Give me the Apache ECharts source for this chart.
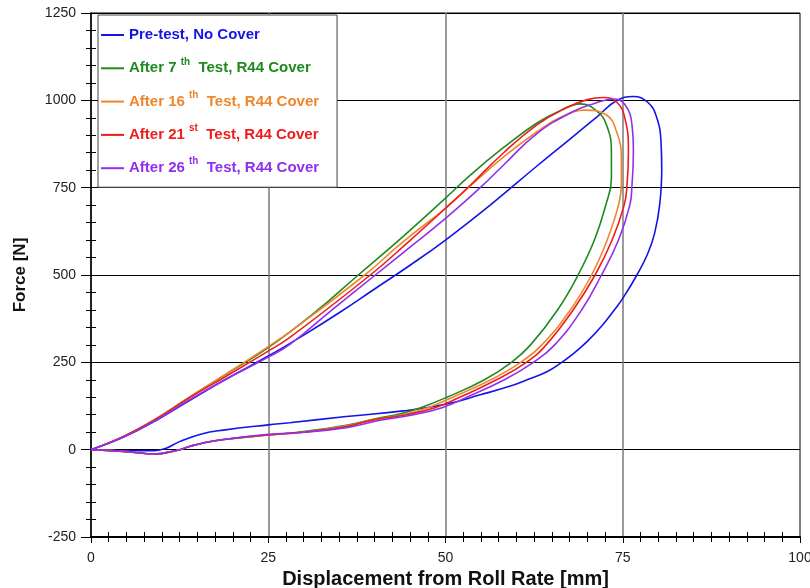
<!DOCTYPE html>
<html>
<head>
<meta charset="utf-8">
<script src="https://cdn.jsdelivr.net/npm/echarts@6/dist/echarts.min.js"></script>
<style>
  html, body { margin: 0; padding: 0; background: #fff; }
  #chart { width: 810px; height: 588px; }
</style>
</head>
<body>
<div id="chart"></div>
<script>
// Force vs. displacement hysteresis loops: each loop runs from the origin
// along the loading branch to the peak, round the turn-around and back
// along the unloading branch to the origin. Points are [displacement mm, force N].
const preTest = [
  [0,0],[4.6,36],[9.3,85],[14,142],[18.7,198],[25,268],[30,328],[35,392],
  [40,460],[45,528],[50,600],[56.3,700],[62.9,812],[67.6,890],[71.5,955],
  [74.1,999],[76.5,1011],[78.6,993],[79.8,950],[80.4,880],[80.5,800],[80.2,700],
  [79.5,620],[78.5,560],[77,500],[75,433],[74,405],[72,353],[70,310],[68,274],
  [66.4,250],[64.3,223],[61.5,200],[59.6,185],[54.9,157],[50,130],[44,111],
  [36,95],[28,77],[25,71],[18.7,56],[15.6,45],[12.5,23],[10.5,3],[9,-3],[4.5,-3],[0,0]
];
const after7th = [
  [0,0],[4.6,38],[9.3,90],[14,152],[18.7,212],[25,292],[31.4,390],[37.7,500],
  [44,610],[50,720],[53.5,786],[58.2,865],[62.9,935],[66.3,972],[69,990],
  [71.3,970],[72.7,930],[73.4,853],[73.4,776],[72.6,700],[71,600],[68.7,500],
  [65.8,400],[62,300],[59.3,250],[55.5,200],[50.2,150],[46.5,120],[43.5,102],
  [40,88],[36,70],[30,52],[25,42],[18.7,29],[16,20],[14,10],[12.5,0],[11,-7],
  [9.3,-12],[4.6,-5],[0,0]
];
const after16th = [
  [0,0],[4.6,38],[9.3,90],[14,152],[18.7,212],[25,295],[28.1,338],[38.6,500],
  [44,595],[50,691],[53.5,755],[58.2,838],[62.9,910],[66.3,952],[69.7,972],
  [72.7,958],[74.1,912],[74.8,834],[74.8,758],[74.4,700],[72.8,600],[70.6,500],
  [67.6,400],[63.6,300],[60.6,250],[56.4,200],[51,150],[47.5,120],[44,100],
  [40,87],[36,68],[30,50],[25,42],[18.7,29],[16,20],[14,10],[12.5,0],[11,-7],
  [9.3,-12],[4.6,-5],[0,0]
];
const after21st = [
  [0,0],[4.6,38],[9.3,89],[14,150],[18.7,206],[25,282],[28.1,322],[39.4,500],
  [44.5,590],[50,691],[53.5,757],[58.2,850],[62.9,930],[67,978],[70,1002],
  [72.3,1008],[74.1,996],[75.3,949],[75.8,853],[75.6,757],[75.2,700],[73.5,600],
  [71.1,500],[68,400],[64.2,300],[61.4,250],[57.2,200],[52,150],[48.5,120],
  [44.5,100],[40,86],[36,66],[30,50],[25,42],[18.7,29],[16,20],[14,10],[12.5,0],
  [11,-7],[9.3,-12],[4.6,-5],[0,0]
];
const after26th = [
  [0,0],[4.6,36],[9.3,86],[14,144],[18.7,198],[25,265],[28.1,302],[34,400],
  [40.1,500],[45,580],[50,662],[54.9,750],[58.2,815],[62.9,905],[68,968],[71,991],
  [73.7,1004],[75.3,988],[76.3,930],[76.5,853],[76.3,757],[76,700],[74.4,600],
  [72,500],[69.2,400],[65.4,300],[62.4,250],[58.3,200],[53,150],[49.5,120],
  [45.5,100],[40.8,84],[36,63],[30,50],[25,44],[18.7,29],[16,20],[14,10],[12.5,0],
  [11,-7],[9.3,-12],[4.6,-5],[0,0]
];

const seriesNames = [
  'Pre-test, No Cover',
  'After 7th Test, R44 Cover',
  'After 16th Test, R44 Cover',
  'After 21st Test, R44 Cover',
  'After 26th Test, R44 Cover'
];
const seriesData = [preTest, after7th, after16th, after21st, after26th];
const seriesColors = ['#1414e6', '#1f8a1f', '#f0862c', '#ee1c1c', '#9030ee'];

// Legend labels: [prefix, superscript, suffix]
const legendParts = [
  ['Pre-test, No Cover', '', ''],
  ['After 7 ', 'th', '  Test, R44 Cover'],
  ['After 16 ', 'th', '  Test, R44 Cover'],
  ['After 21 ', 'st', '  Test, R44 Cover'],
  ['After 26 ', 'th', '  Test, R44 Cover']
];

const xTicks = { min: 0, max: 100, interval: 25 };
const yTicks = { min: -250, max: 1250, interval: 250 };

const FONT = '"Liberation Sans", Arial, sans-serif';

const rich = {};
seriesColors.forEach((c, i) => {
  rich['t' + i] = { color: c, fontFamily: FONT, fontWeight: 'bold', fontSize: 15, lineHeight: 20 };
  rich['s' + i] = { color: c, fontFamily: FONT, fontWeight: 'bold', fontSize: 10, padding: [0, 0, 13, 0] };
});

const chart = echarts.init(document.getElementById('chart'), null, { renderer: 'canvas' });

const tickLabel = { fontFamily: FONT, fontSize: 14, color: '#222' };

chart.setOption({
  animation: false,
  backgroundColor: '#fff',
  grid: {
    left: 91, right: 10, top: 13, bottom: 51,
    outerBoundsMode: 'none',
    show: true, borderColor: '#000', borderWidth: 1, backgroundColor: 'transparent'
  },
  legend: {
    orient: 'vertical',
    left: 98, top: 15,
    padding: [10, 18, 9, 3],
    itemGap: 11.8,
    itemWidth: 23, itemHeight: 2,
    icon: 'rect',
    backgroundColor: '#fff',
    borderColor: '#444', borderWidth: 1,
    data: seriesNames,
    formatter: function (name) {
      const i = seriesNames.indexOf(name);
      const p = legendParts[i];
      let s = '{t' + i + '|' + p[0] + '}';
      if (p[1]) s += '{s' + i + '|' + p[1] + '}{t' + i + '|' + p[2] + '}';
      return s;
    },
    textStyle: { rich: rich, fontFamily: FONT, fontWeight: 'bold', fontSize: 15, lineHeight: 20 }
  },
  xAxis: [{
    type: 'value', min: xTicks.min, max: xTicks.max, interval: xTicks.interval,
    position: 'bottom',
    name: 'Displacement from Roll Rate [mm]', nameLocation: 'middle', nameGap: 30,
    nameTextStyle: { fontFamily: FONT, fontWeight: 'bold', fontSize: 20, color: '#111' },
    axisLine: { show: true, onZero: false, lineStyle: { color: '#000', width: 2 } },
    axisTick: { show: true, length: 6, lineStyle: { color: '#000', width: 1 } },
    minorTick: { show: true, splitNumber: 10, length: 5, lineStyle: { color: '#000', width: 1 } },
    axisLabel: Object.assign({ margin: 14, showMaxLabel: true }, tickLabel),
    splitLine: { show: true, showMinLine: false, showMaxLine: false, lineStyle: { color: '#7a7a7a', width: 1.5 } }
  }, {
    type: 'value', min: xTicks.min, max: xTicks.max, interval: xTicks.interval,
    position: 'bottom',
    axisLine: { show: false, onZero: false },
    axisTick: { show: false, inside: true },
    minorTick: { show: true, splitNumber: 10, length: 5, lineStyle: { color: '#000', width: 1 } },
    axisLabel: { show: false },
    splitLine: { show: false }
  }],
  yAxis: [{
    type: 'value', min: yTicks.min, max: yTicks.max, interval: yTicks.interval,
    position: 'left',
    name: 'Force [N]', nameLocation: 'middle', nameGap: 62,
    nameTextStyle: { fontFamily: FONT, fontWeight: 'bold', fontSize: 17, color: '#111' },
    axisLine: { show: true, onZero: false, lineStyle: { color: '#000', width: 1.5 } },
    axisTick: { show: true, length: 10, lineStyle: { color: '#000', width: 1 } },
    minorTick: { show: true, splitNumber: 5, length: 5, lineStyle: { color: '#000', width: 1 } },
    axisLabel: Object.assign({ margin: 15, formatter: v => String(v) }, tickLabel),
    splitLine: { show: true, showMinLine: false, lineStyle: { color: '#000', width: 1 } }
  }, {
    type: 'value', min: yTicks.min, max: yTicks.max, interval: yTicks.interval,
    position: 'left',
    axisLine: { show: false, onZero: false },
    axisTick: { show: false, inside: true },
    minorTick: { show: true, splitNumber: 5, length: 5, lineStyle: { color: '#000', width: 1 } },
    axisLabel: { show: false },
    splitLine: { show: false }
  }],
  series: seriesData.map((d, i) => ({
    name: seriesNames[i],
    type: 'line',
    xAxisIndex: 0, yAxisIndex: 0,
    data: d,
    smooth: 0.45,
    showSymbol: false,
    symbol: 'none',
    color: seriesColors[i],
    lineStyle: { color: seriesColors[i], width: 1.6 },
    z: 3 + i
  }))
});
</script>
</body>
</html>
